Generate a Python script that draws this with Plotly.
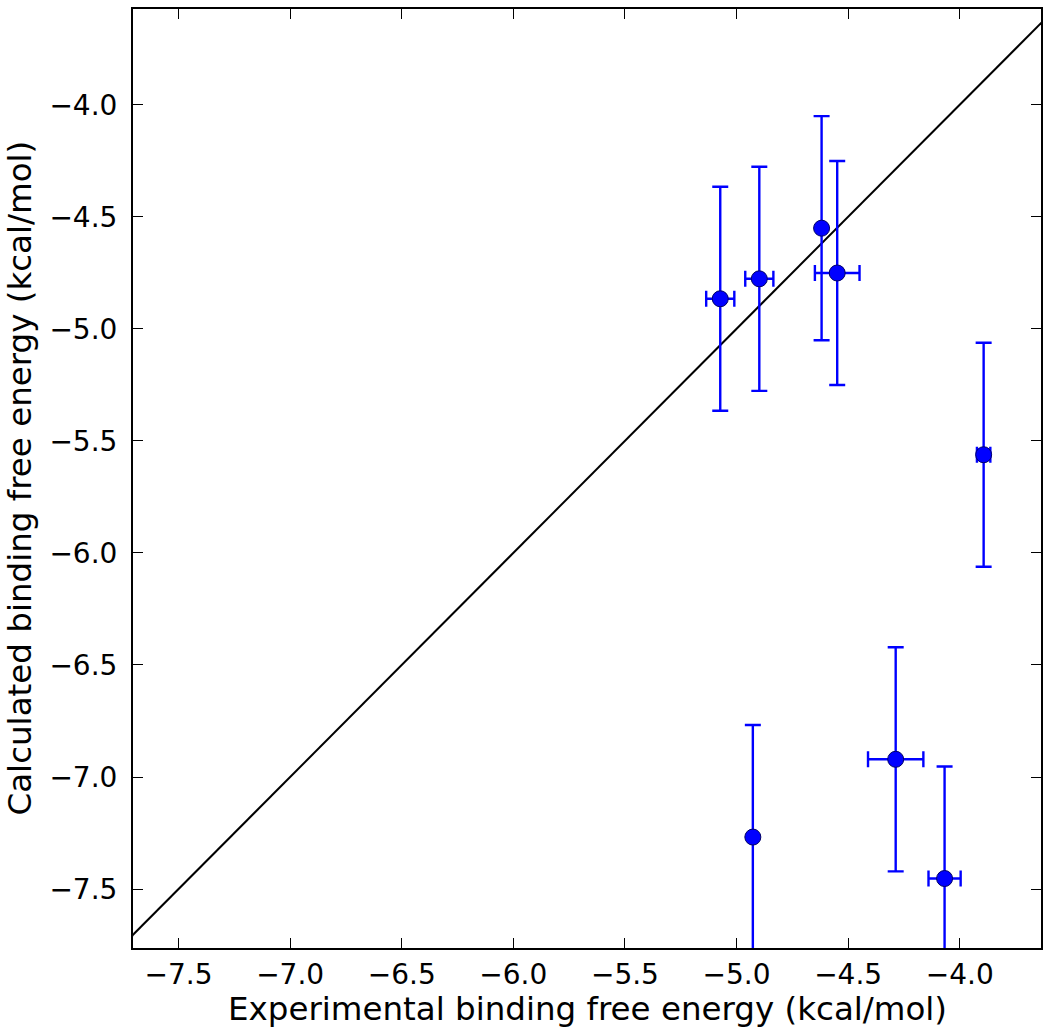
import plotly.graph_objects as go

# Data
exp_dg = [-5.073, -4.898, -4.619, -4.549, -3.893, -4.927, -4.287, -4.068]
calc_dg = [-4.866, -4.777, -4.551, -4.751, -5.562, -7.268, -6.921, -7.453]
exp_err = [0.063, 0.063, 0.0, 0.10, 0.03, 0.0, 0.124, 0.072]
calc_err = [0.50, 0.50, 0.50, 0.50, 0.50, 0.50, 0.50, 0.50]

x_range = [-7.704, -3.636]
y_range = [-7.763, -3.573]
diag = [-8.0, -3.0]
tick_vals = [-7.5, -7.0, -6.5, -6.0, -5.5, -5.0, -4.5, -4.0]

x_title = "Experimental binding free energy (kcal/mol)"
y_title = "Calculated binding free energy (kcal/mol)"

FONT = "DejaVu Sans"
TICK_SIZE = 28
TITLE_SIZE = 32.5

fig = go.Figure()

fig.add_trace(go.Scatter(
    x=diag, y=diag, mode="lines",
    line=dict(color="black", width=2),
    hoverinfo="skip", showlegend=False,
))

fig.add_trace(go.Scatter(
    x=exp_dg, y=calc_dg, mode="markers",
    marker=dict(color="#0000ff", size=16, line=dict(color="#000066", width=1)),
    error_y=dict(type="data", array=calc_err, visible=True, color="#0000ff", thickness=2.4, width=8),
    error_x=dict(type="data", array=exp_err, visible=True, color="#0000ff", thickness=2.4, width=8),
    showlegend=False,
))

axis_common = dict(
    tickvals=tick_vals,
    tickformat=".1f",
    ticks="inside",
    ticklen=10,
    tickwidth=1.2,
    tickcolor="black",
    showline=True,
    linecolor="black",
    linewidth=2,
    mirror="allticks",
    showgrid=False,
    zeroline=False,
    tickfont=dict(family=FONT, size=TICK_SIZE, color="black"),
)

fig.update_xaxes(range=x_range, ticklabelstandoff=0, **axis_common)
fig.update_yaxes(range=y_range, ticklabelstandoff=8, **axis_common)

# Axis titles placed as annotations for precise positioning
fig.add_annotation(
    text=x_title, xref="paper", yref="paper", x=0.5, y=0,
    xanchor="center", yanchor="middle", yshift=-61, showarrow=False,
    font=dict(family=FONT, size=TITLE_SIZE, color="black"),
)
fig.add_annotation(
    text=y_title, xref="paper", yref="paper", x=0, y=0.5,
    xanchor="center", yanchor="middle", xshift=-114, textangle=-90, showarrow=False,
    font=dict(family=FONT, size=TITLE_SIZE, color="black"),
)

fig.update_layout(
    width=1050, height=1035,
    margin=dict(l=133, r=7, t=9, b=87),
    paper_bgcolor="white",
    plot_bgcolor="white",
    font=dict(family=FONT),
)

# remove the default page margin so the figure fills the window exactly
fig.write_html("out.html", config={"displayModeBar": False},
               post_script="document.body.style.margin='0';")
